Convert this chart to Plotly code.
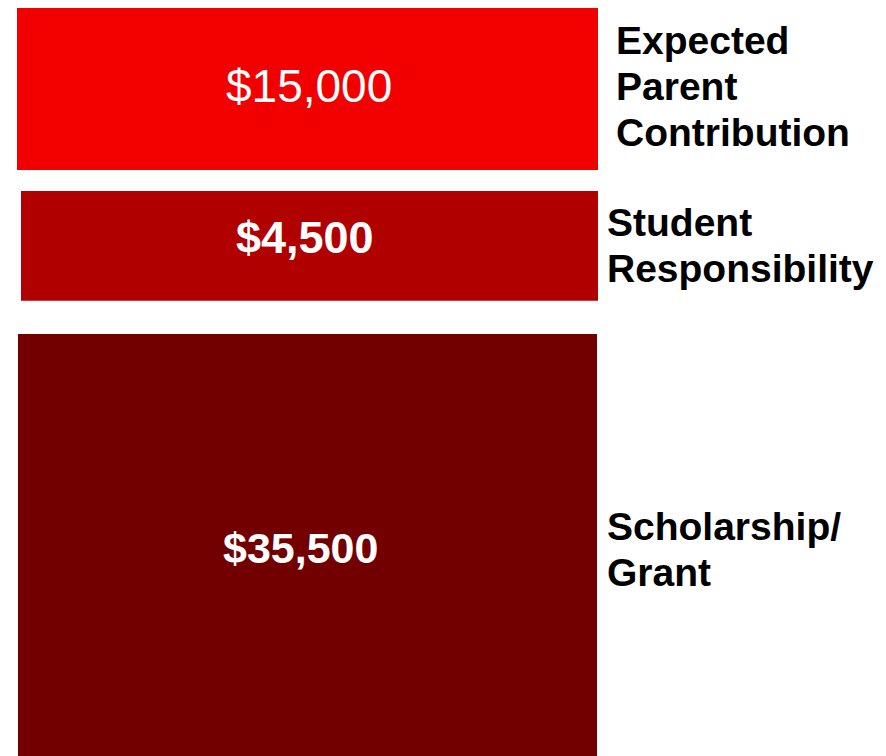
import plotly.graph_objects as go

# Data (top-to-bottom order as drawn)
categories = ["Expected<br>Parent<br>Contribution", "Student<br>Responsibility", "Scholarship/<br>Grant"]
values = [15000, 4500, 35500]
value_bold = [False, True, True]

# Styling / layout (page body has an 8px offset, compensated here)
OFF = 8
W, H = 886, 756
colors = ["#f20000", "#b00000", "#720000"]
x_px = [(17, 598), (21, 598), (18, 597)]
y_px = [(7, 170), (190.7, 300.7), (334, 764)]
label_left_px = [614, 605, 605]
label_yoff = [3, 0, 0]
value_sizes = [46, 45, 43]
value_shift = [(1, 3), (-5, 8), (-7, 1)]
label_size = 39
line_step = 46


def clamp(v):
    return min(1.0, max(0.0, v))


fig = go.Figure()
layout_axes = {}
annotations = []
for i, (cat, val) in enumerate(zip(categories, values)):
    n = "" if i == 0 else str(i + 1)
    x0, x1 = x_px[i]
    y0, y1 = y_px[i]
    fig.add_trace(go.Bar(
        x=[0], y=[val], width=[1],
        xaxis="x" + n, yaxis="y" + n,
        marker=dict(color=colors[i], line=dict(width=0)),
        hoverinfo="skip", showlegend=False,
    ))
    layout_axes["xaxis" + n] = dict(domain=[clamp((x0 - OFF) / W), clamp((x1 - OFF) / W)],
                                     range=[-0.5, 0.5], visible=False, fixedrange=True,
                                     anchor="y" + n)
    layout_axes["yaxis" + n] = dict(domain=[clamp(1 - (y1 - OFF) / H), clamp(1 - (y0 - OFF) / H)],
                                     range=[0, val], visible=False, fixedrange=True,
                                     anchor="x" + n)
    # value label
    txt = "${:,}".format(val)
    if value_bold[i]:
        txt = "<b>" + txt + "</b>"
    annotations.append(dict(
        text=txt, xref="x" + n, yref="y" + n, x=0, y=val / 2,
        xanchor="center", yanchor="middle", showarrow=False,
        xshift=value_shift[i][0], yshift=value_shift[i][1],
        font=dict(family="Liberation Sans, Arial, sans-serif", size=value_sizes[i], color="white"),
    ))
    # category label, one annotation per line
    lines = cat.split("<br>")
    nl = len(lines)
    for k, line in enumerate(lines):
        annotations.append(dict(
            text="<b>" + line + "</b>", xref="paper", yref="y" + n,
            x=(label_left_px[i] - OFF) / W, y=val / 2,
            xanchor="left", yanchor="middle", align="left",
            yshift=((nl - 1) / 2 - k) * line_step + label_yoff[i],
            showarrow=False,
            font=dict(family="Liberation Sans, Arial, sans-serif", size=label_size, color="black"),
        ))

fig.update_layout(
    width=W, height=H,
    margin=dict(l=0, r=0, t=0, b=0),
    paper_bgcolor="white", plot_bgcolor="rgba(0,0,0,0)",
    bargap=0,
    annotations=annotations,
    **layout_axes,
)

fig.write_html("out.html")
